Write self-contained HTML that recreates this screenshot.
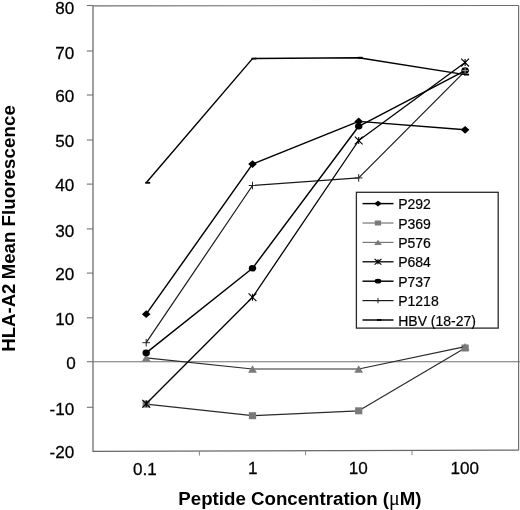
<!DOCTYPE html><html><head><meta charset="utf-8"><title>chart</title><style>html,body{margin:0;padding:0;background:#fff}svg{display:block}text{font-family:"Liberation Sans",Arial,Helvetica,sans-serif;fill:#000}</style></head><body>
<svg width="520" height="510" viewBox="0 0 520 510">
<rect width="520" height="510" fill="#fff"/>
<path d="M93 5.9L518.6 5.45" stroke="#6e6e6e" stroke-width="1.1" fill="none"/>
<path d="M518.6 5.45V450.2" stroke="#6a6a6a" stroke-width="1.15" fill="none"/>
<path d="M93 5.9V451.3L518.6 450.2" stroke="#686868" stroke-width="1.25" fill="none"/>
<path d="M93.2 361.7H520" stroke="#707070" stroke-width="1.15" fill="none"/>
<text x="74.3" y="458.50" font-size="16" text-anchor="end" stroke="#000" stroke-width="0.25" transform="translate(74.3 0) scale(1.07 1) translate(-74.3 0)">-20</text>
<path d="M86.8 407.3H93" stroke="#747474" stroke-width="1.1"/>
<text x="74.3" y="414.70" font-size="16" text-anchor="end" stroke="#000" stroke-width="0.25" transform="translate(74.3 0) scale(1.07 1) translate(-74.3 0)">-10</text>
<path d="M86.8 361.7H93" stroke="#747474" stroke-width="1.1"/>
<text x="75.7" y="368.90" font-size="16" text-anchor="end" stroke="#000" stroke-width="0.25" transform="translate(75.7 0) scale(1.07 1) translate(-75.7 0)">0</text>
<path d="M86.8 317.8H93" stroke="#747474" stroke-width="1.1"/>
<text x="74.3" y="324.95" font-size="16" text-anchor="end" stroke="#000" stroke-width="0.25" transform="translate(74.3 0) scale(1.07 1) translate(-74.3 0)">10</text>
<path d="M86.8 273.1H93" stroke="#747474" stroke-width="1.1"/>
<text x="74.3" y="280.00" font-size="16" text-anchor="end" stroke="#000" stroke-width="0.25" transform="translate(74.3 0) scale(1.07 1) translate(-74.3 0)">20</text>
<path d="M86.8 228.9H93" stroke="#747474" stroke-width="1.1"/>
<text x="74.3" y="236.65" font-size="16" text-anchor="end" stroke="#000" stroke-width="0.25" transform="translate(74.3 0) scale(1.07 1) translate(-74.3 0)">30</text>
<path d="M86.8 184.1H93" stroke="#747474" stroke-width="1.1"/>
<text x="74.3" y="190.90" font-size="16" text-anchor="end" stroke="#000" stroke-width="0.25" transform="translate(74.3 0) scale(1.07 1) translate(-74.3 0)">40</text>
<path d="M86.8 140.0H93" stroke="#747474" stroke-width="1.1"/>
<text x="74.3" y="147.20" font-size="16" text-anchor="end" stroke="#000" stroke-width="0.25" transform="translate(74.3 0) scale(1.07 1) translate(-74.3 0)">50</text>
<path d="M86.8 95.0H93" stroke="#747474" stroke-width="1.1"/>
<text x="74.3" y="101.90" font-size="16" text-anchor="end" stroke="#000" stroke-width="0.25" transform="translate(74.3 0) scale(1.07 1) translate(-74.3 0)">60</text>
<path d="M86.8 51.0H93" stroke="#747474" stroke-width="1.1"/>
<text x="74.3" y="58.55" font-size="16" text-anchor="end" stroke="#000" stroke-width="0.25" transform="translate(74.3 0) scale(1.07 1) translate(-74.3 0)">70</text>
<path d="M86.8 5.5H93" stroke="#747474" stroke-width="1.1"/>
<text x="74.3" y="13.90" font-size="16" text-anchor="end" stroke="#000" stroke-width="0.25" transform="translate(74.3 0) scale(1.07 1) translate(-74.3 0)">80</text>
<path d="M199.4 451.0V455.6" stroke="#858585" stroke-width="1"/>
<path d="M305.6 450.7V455.3" stroke="#858585" stroke-width="1"/>
<path d="M412.0 450.5V455.1" stroke="#858585" stroke-width="1"/>
<text x="144.9" y="474.6" font-size="16" text-anchor="middle" stroke="#000" stroke-width="0.25" transform="translate(146.2 0) scale(1.07 1) translate(-146.2 0)">0.1</text>
<text x="252.8" y="474.3" font-size="16" text-anchor="middle" stroke="#000" stroke-width="0.25" transform="translate(252.5 0) scale(1.07 1) translate(-252.5 0)">1</text>
<text x="358.3" y="474.0" font-size="16" text-anchor="middle" stroke="#000" stroke-width="0.25" transform="translate(358.7 0) scale(1.07 1) translate(-358.7 0)">10</text>
<text x="464.8" y="473.8" font-size="16" text-anchor="middle" stroke="#000" stroke-width="0.25" transform="translate(465.1 0) scale(1.07 1) translate(-465.1 0)">100</text>
<text x="178.3" y="504.9" font-size="18.7" font-weight="bold">Peptide Concentration (<tspan font-family="Liberation Serif,serif" font-weight="normal" font-size="20">μ</tspan>M)</text>
<text transform="translate(14.9 351.8) rotate(-90)" font-size="18.62" font-weight="bold">HLA-A2<tspan dx="-0.9"> Mean</tspan><tspan letter-spacing="0.11"> Fluorescence</tspan></text>
<polyline points="146.2,404.1 252.5,415.7 358.7,410.8 465.1,348.0" fill="none" stroke="#2a2a2a" stroke-width="1.2" stroke-linejoin="round"/>
<rect x="142.6" y="400.6" width="7.2" height="7.0" fill="#7a7a7a"/>
<rect x="248.9" y="412.2" width="7.2" height="7.0" fill="#7a7a7a"/>
<rect x="355.1" y="407.3" width="7.2" height="7.0" fill="#7a7a7a"/>
<rect x="461.5" y="344.5" width="7.2" height="7.0" fill="#7a7a7a"/>
<polyline points="146.2,357.8 252.5,369.0 358.7,369.0 465.1,346.7" fill="none" stroke="#2a2a2a" stroke-width="1.2" stroke-linejoin="round"/>
<path d="M141.8 361.6L146.2 354.0L150.6 361.6Z" fill="#7a7a7a"/>
<path d="M248.1 372.8L252.5 365.2L256.9 372.8Z" fill="#7a7a7a"/>
<path d="M354.3 372.8L358.7 365.2L363.1 372.8Z" fill="#7a7a7a"/>
<path d="M460.7 350.5L465.1 342.9L469.5 350.5Z" fill="#7a7a7a"/>
<polyline points="146.2,342.7 252.5,185.5 358.7,177.9 465.1,71.1" fill="none" stroke="#1a1a1a" stroke-width="1.2" stroke-linejoin="round"/>
<path d="M142.4 342.7L150.0 342.7M146.2 338.9L146.2 346.5" stroke="#222" stroke-width="1" fill="none"/>
<path d="M248.7 185.5L256.3 185.5M252.5 181.7L252.5 189.3" stroke="#222" stroke-width="1" fill="none"/>
<path d="M354.9 177.9L362.5 177.9M358.7 174.1L358.7 181.7" stroke="#222" stroke-width="1" fill="none"/>
<path d="M461.3 71.1L468.9 71.1M465.1 67.3L465.1 74.9" stroke="#222" stroke-width="1" fill="none"/>
<polyline points="146.2,403.7 252.5,297.3 358.7,140.5 465.1,62.6" fill="none" stroke="#000" stroke-width="1.3" stroke-linejoin="round"/>
<path d="M142.3 399.8L150.1 407.6M142.3 407.6L150.1 399.8M146.2 400.2L146.2 407.2" stroke="#000" stroke-width="1.1" fill="none"/>
<path d="M248.6 293.4L256.4 301.2M248.6 301.2L256.4 293.4M252.5 293.8L252.5 300.8" stroke="#000" stroke-width="1.1" fill="none"/>
<path d="M354.8 136.6L362.6 144.4M354.8 144.4L362.6 136.6M358.7 137.0L358.7 144.0" stroke="#000" stroke-width="1.1" fill="none"/>
<path d="M461.2 58.7L469.0 66.5M461.2 66.5L469.0 58.7M465.1 59.1L465.1 66.1" stroke="#000" stroke-width="1.1" fill="none"/>
<polyline points="146.2,352.9 252.5,268.3 358.7,126.3 465.1,70.6" fill="none" stroke="#000" stroke-width="1.45" stroke-linejoin="round"/>
<ellipse cx="146.2" cy="352.9" rx="3.7" ry="3.3" fill="#000"/>
<ellipse cx="252.5" cy="268.3" rx="3.7" ry="3.3" fill="#000"/>
<ellipse cx="358.7" cy="126.3" rx="3.7" ry="3.3" fill="#000"/>
<ellipse cx="465.1" cy="70.6" rx="3.7" ry="3.3" fill="#000"/>
<polyline points="146.2,314.2 252.5,164.1 358.7,121.4 465.1,129.8" fill="none" stroke="#000" stroke-width="1.45" stroke-linejoin="round"/>
<path d="M141.9 314.2L146.2 310.3L150.5 314.2L146.2 318.1Z" fill="#000"/>
<path d="M248.2 164.1L252.5 160.2L256.8 164.1L252.5 168.0Z" fill="#000"/>
<path d="M354.4 121.4L358.7 117.5L363.0 121.4L358.7 125.3Z" fill="#000"/>
<path d="M460.8 129.8L465.1 125.9L469.4 129.8L465.1 133.7Z" fill="#000"/>
<polyline points="146.2,182.8 252.5,58.6 358.7,57.7 465.1,74.6" fill="none" stroke="#000" stroke-width="1.45" stroke-linejoin="round"/>
<rect x="145.2" y="181.9" width="5.0" height="1.8" fill="#000"/>
<rect x="251.5" y="57.7" width="5.0" height="1.8" fill="#000"/>
<rect x="357.7" y="56.8" width="5.0" height="1.8" fill="#000"/>
<rect x="464.1" y="73.7" width="5.0" height="1.8" fill="#000"/>
<path d="M462.1 70.6H468.1M465.1 67.6V73.6" stroke="#aaa" stroke-width="0.9" fill="none"/>
<rect x="356.4" y="192.3" width="141.8" height="135.8" fill="#fff" stroke="#2a2a2a" stroke-width="1.3"/>
<path d="M362.5 203.6H393.5" stroke="#000" stroke-width="1.45"/>
<path d="M374.2 203.6L378.0 200.8L381.8 203.6L378.0 206.4Z" fill="#000"/>
<text x="398.2" y="209.2" font-size="14" stroke="#000" stroke-width="0.2">P292</text>
<path d="M362.5 223.0H393.5" stroke="#777" stroke-width="1.2"/>
<rect x="374.8" y="220.5" width="6.3" height="5.0" fill="#7a7a7a"/>
<text x="398.2" y="228.6" font-size="14" stroke="#000" stroke-width="0.2">P369</text>
<path d="M362.5 242.4H393.5" stroke="#777" stroke-width="1.2"/>
<path d="M374.1 245.1L378.0 239.7L381.9 245.1Z" fill="#7a7a7a"/>
<text x="398.2" y="248.0" font-size="14" stroke="#000" stroke-width="0.2">P576</text>
<path d="M362.5 261.8H393.5" stroke="#000" stroke-width="1.3"/>
<path d="M374.6 259.0L381.4 264.6M374.6 264.6L381.4 259.0M378.0 259.3L378.0 264.3" stroke="#000" stroke-width="1.1" fill="none"/>
<text x="398.2" y="267.4" font-size="14" stroke="#000" stroke-width="0.2">P684</text>
<path d="M362.5 281.2H393.5" stroke="#000" stroke-width="1.45"/>
<ellipse cx="378.0" cy="281.2" rx="3.3" ry="2.4" fill="#000"/>
<text x="398.2" y="286.8" font-size="14" stroke="#000" stroke-width="0.2">P737</text>
<path d="M362.5 300.6H393.5" stroke="#1a1a1a" stroke-width="1.2"/>
<path d="M374.7 300.6L381.3 300.6M378.0 297.9L378.0 303.3" stroke="#222" stroke-width="1" fill="none"/>
<text x="398.2" y="306.2" font-size="14" stroke="#000" stroke-width="0.2">P1218</text>
<path d="M362.5 320.0H393.5" stroke="#000" stroke-width="1.45"/>
<rect x="377.0" y="319.1" width="4.4" height="1.8" fill="#000"/>
<text x="398.2" y="325.6" font-size="14" stroke="#000" stroke-width="0.2">HBV (18-27)</text>
</svg></body></html>
